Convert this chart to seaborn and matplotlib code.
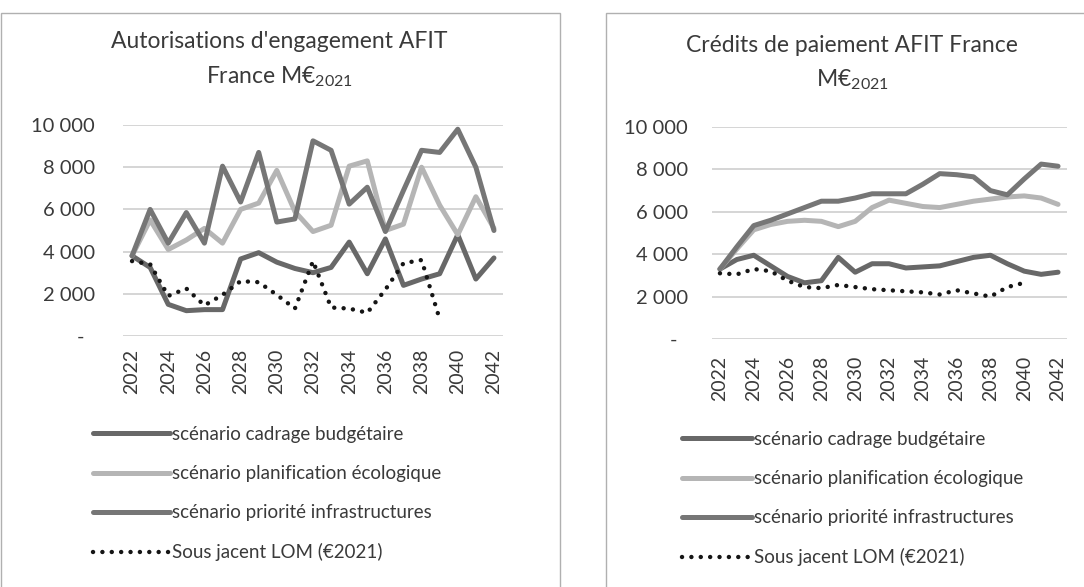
import matplotlib
matplotlib.use("Agg")
import matplotlib.pyplot as plt
import seaborn as sns
from matplotlib.patches import Rectangle
from matplotlib.ticker import FuncFormatter

years = list(range(2022, 2043))
tick_years = years[::2]

series_labels = [
    "scénario cadrage budgétaire",
    "scénario planification écologique",
    "scénario priorité infrastructures",
    "Sous jacent LOM (€2021)",
]

# Autorisations d'engagement AFIT France, M€2021
ae_cadrage = [3800, 3250, 1500, 1200, 1250, 1250, 3650, 3950, 3500, 3200, 3000, 3250,
              4450, 2950, 4600, 2400, 2700, 2950, 4800, 2700, 3700]
ae_planif = [3800, 5500, 4100, 4550, 5100, 4400, 6000, 6300, 7850, 5900, 4950, 5250,
             8050, 8300, 5000, 5300, 8000, 6200, 4800, 6600, 5100]
ae_priorite = [3800, 6000, 4400, 5850, 4400, 8050, 6350, 8700, 5400, 5550, 9250, 8800,
               6250, 7050, 4950, 6900, 8800, 8700, 9800, 8000, 5000]
ae_lom = [3550, 3400, 1900, 2250, 1450, 1950, 2600, 2550, 1950, 1300, 3550, 1350,
          1300, 1100, 2200, 3450, 3600, 800]

# Crédits de paiement AFIT France, M€2021
cp_cadrage = [3300, 3750, 3950, 3450, 2950, 2650, 2750, 3850, 3150, 3550, 3550, 3350,
              3400, 3450, 3650, 3850, 3950, 3550, 3200, 3050, 3150]
cp_planif = [3300, 4250, 5150, 5400, 5550, 5600, 5550, 5300, 5550, 6200, 6550, 6400,
             6250, 6200, 6350, 6500, 6600, 6700, 6750, 6650, 6350]
cp_priorite = [3300, 4350, 5350, 5600, 5900, 6200, 6500, 6500, 6650, 6850, 6850, 6850,
               7300, 7800, 7750, 7650, 7000, 6800, 7550, 8250, 8150]
cp_lom = [3100, 3050, 3300, 3200, 2750, 2450, 2400, 2550, 2450, 2350, 2300, 2250,
          2200, 2100, 2300, 2150, 2000, 2450, 2650]

W, H = 1084, 587
TXT = "#3a3a3a"

sns.set_theme(style="white")
plt.rcParams["font.family"] = ["Lato", "DejaVu Sans"]
plt.rcParams["mathtext.fontset"] = "custom"
plt.rcParams["mathtext.rm"] = "Lato"
plt.rcParams["mathtext.default"] = "regular"


def fmt_thousands(v, pos):
    # Excel accounting style: zero shown as a dash
    if abs(v) < 1:
        return "-  "
    return f"{int(round(v)):,}".replace(",", " ")


def draw_panel(ax, cadrage, planif, priorite, lom, ypad, xpad):
    solid = dict(linewidth=3.6, solid_joinstyle="round", solid_capstyle="round",
                 errorbar=None, legend=False)
    sns.lineplot(x=years, y=cadrage, ax=ax, color="#686868", label=series_labels[0], **solid)
    sns.lineplot(x=years, y=planif, ax=ax, color="#b5b5b5", label=series_labels[1], **solid)
    sns.lineplot(x=years, y=priorite, ax=ax, color="#767676", label=series_labels[2], **solid)
    sns.lineplot(x=years[:len(lom)], y=lom, ax=ax, color="#151515", label=series_labels[3],
                 linewidth=3.2, linestyle=(0, (0.01, 2.1)), dash_capstyle="round",
                 errorbar=None, legend=False)

    ax.set_xlim(2021.5, 2042.5)
    ax.set_ylim(0, 10000)
    ax.set_yticks(range(0, 10001, 2000))
    ax.yaxis.set_major_formatter(FuncFormatter(fmt_thousands))
    ax.set_xticks(tick_years)
    ax.set_xticklabels([str(y) for y in tick_years], rotation=90)
    ax.yaxis.grid(True, color="#d2d2d2", linewidth=1.3)
    ax.set_axisbelow(True)
    for s in ax.spines.values():
        s.set_visible(False)
    ax.tick_params(axis="y", length=0, pad=ypad, labelsize=14.5, labelcolor=TXT)
    ax.tick_params(axis="x", length=0, pad=xpad, labelsize=14, labelcolor=TXT)
    ax.set_xlabel("")
    ax.set_ylabel("")


fig = plt.figure(figsize=(W / 100, H / 100), dpi=100)
fig.patch.set_facecolor("white")

# panel frames of the scanned page
fig.add_artist(Rectangle((1 / W, -0.02), 559 / W, 1 - 13 / H + 0.02,
                         transform=fig.transFigure, fill=False, ec="#b0b0b0", lw=1))
fig.add_artist(Rectangle((606 / W, -0.02), 480 / W, 1 - 13 / H + 0.02,
                         transform=fig.transFigure, fill=False, ec="#b0b0b0", lw=1))

ax1 = fig.add_axes([123 / W, 1 - 336 / H, 380 / W, 211 / H])
ax2 = fig.add_axes([711.5 / W, 1 - 339 / H, 355 / W, 212 / H])

draw_panel(ax1, ae_cadrage, ae_planif, ae_priorite, ae_lom, ypad=20, xpad=9)
draw_panel(ax2, cp_cadrage, cp_planif, cp_priorite, cp_lom, ypad=17, xpad=12)

# titles
fig.text(279 / W, 1 - 42 / H, "Autorisations d'engagement AFIT", ha="center", va="center",
         fontsize=16.5, color=TXT)
fig.text(279 / W, 1 - 77 / H, "France M€$_{2021}$", ha="center", va="center",
         fontsize=16.5, color=TXT)
fig.text(852 / W, 1 - 45 / H, "Crédits de paiement AFIT France", ha="center", va="center",
         fontsize=16.5, color=TXT)
fig.text(852 / W, 1 - 80 / H, "M€$_{2021}$", ha="center", va="center",
         fontsize=16.5, color=TXT)

# legends
for ax, x0, y0, hl in [(ax1, 93, 426, 4.1), (ax2, 682, 431, 3.75)]:
    handles, labels = ax.get_legend_handles_labels()
    fig.legend(handles, labels, loc="upper left", bbox_to_anchor=(x0 / W, 1 - y0 / H),
               bbox_transform=fig.transFigure, frameon=False, fontsize=13.5,
               handlelength=hl, handletextpad=0.1, labelspacing=1.18, borderpad=0,
               borderaxespad=0, labelcolor=TXT)

fig.savefig("out.png", dpi=100, facecolor=fig.get_facecolor())
